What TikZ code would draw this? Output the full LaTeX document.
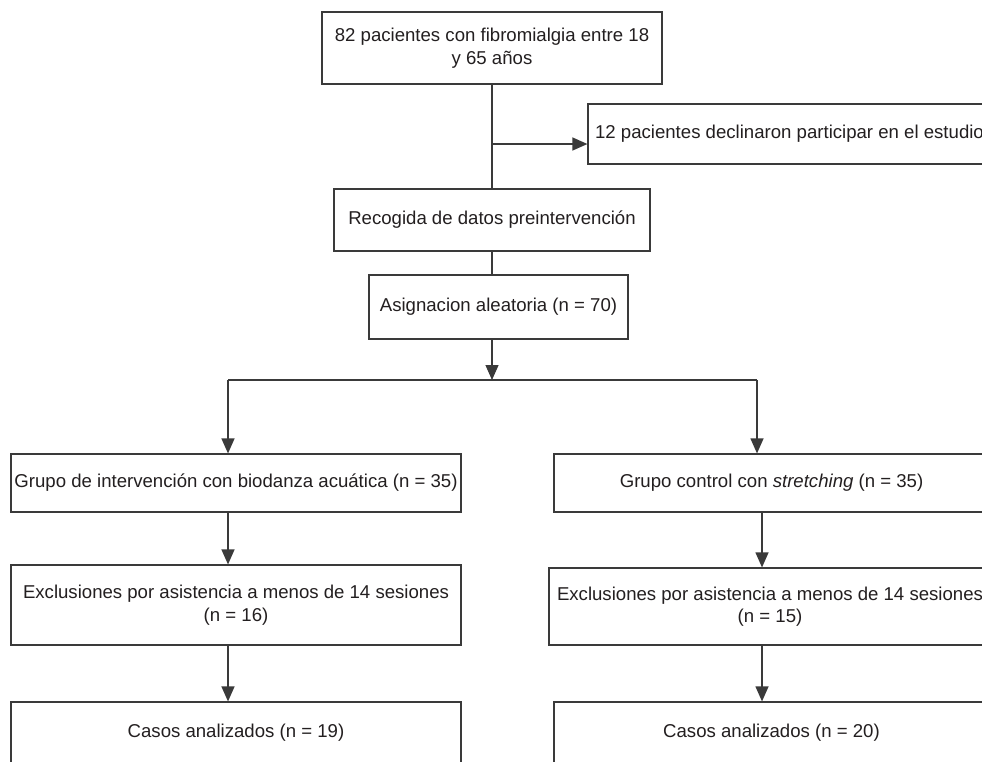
\documentclass[tikz,border=0pt]{standalone}
\usepackage{fontspec}
\setmainfont{Liberation Sans}
\usetikzlibrary{arrows.meta,calc}
\definecolor{lncol}{HTML}{3A3A3A}
\definecolor{txcol}{HTML}{231F20}
\begin{document}
\begin{tikzpicture}[x=1pt,y=-1pt,
  box/.style={draw=lncol, line width=1.2pt, rectangle, inner sep=0pt, text=txcol, align=center,
    font=\fontsize{18.6}{22.5}\selectfont},
  conn/.style={draw=lncol, line width=1.2pt},
  arr/.style={draw=lncol, line width=1.2pt, -{Triangle[length=15pt,width=13pt]}}]
\useasboundingbox (0,0) rectangle (982,761);
\fill[white] (0,0) rectangle (982,761);
\clip (0,0) rectangle (982,761);

\node[box, minimum width=340pt, minimum height=72pt] (n1) at (492,48)
  {82 pacientes con fibromialgia entre 18\\y 65 años};
\node[box, minimum width=403pt, minimum height=60pt] (decl) at (789.5,134)
  {12 pacientes declinaron participar en el estudio};
\node[box, minimum width=316pt, minimum height=62pt] (rec) at (492,220)
  {Recogida de datos preintervención};
\node[box, minimum width=259pt, minimum height=64pt] (asig) at (498.5,307)
  {Asignacion aleatoria (n = 70)};
\node[box, minimum width=450pt, minimum height=58pt] (g1) at (236,483)
  {Grupo de intervención con biodanza acuática (n = 35)};
\node[box, minimum width=435pt, minimum height=58pt] (g2) at (771.5,483)
  {Grupo control con \textit{stretching} (n = 35)};
\node[box, minimum width=450pt, minimum height=80pt] (e1) at (236,605)
  {Exclusiones por asistencia a menos de 14 sesiones\\(n = 16)};
\node[box, minimum width=442pt, minimum height=77pt] (e2) at (770,606.5)
  {Exclusiones por asistencia a menos de 14 sesiones\\(n = 15)};
\node[box, minimum width=450pt, minimum height=62pt] (c1) at (236,733)
  {Casos analizados (n = 19)};
\node[box, minimum width=435pt, minimum height=62pt] (c2) at (771.5,733)
  {Casos analizados (n = 20)};

\coordinate (br) at (492,144);
\coordinate (sp) at (492,380);
\coordinate (sL) at (228,380);
\coordinate (sR) at (757,380);
\coordinate (cR) at (762,0);

\draw[conn] (n1.south) -- (rec.north);
\draw[arr] (br) -- (br -| decl.west);
\draw[conn] (rec.south) -- (rec.south |- asig.north);
\draw[arr] (rec.south |- asig.south) -- (sp);
\draw[conn] (sL) -- (sR);
\draw[arr] (sL) -- (sL |- g1.north);
\draw[arr] (sR) -- (sR |- g2.north);
\draw[arr] (sL |- g1.south) -- (sL |- e1.north);
\draw[arr] (cR |- g2.south) -- (cR |- e2.north);
\draw[arr] (sL |- e1.south) -- (sL |- c1.north);
\draw[arr] (cR |- e2.south) -- (cR |- c2.north);
\end{tikzpicture}
\end{document}
